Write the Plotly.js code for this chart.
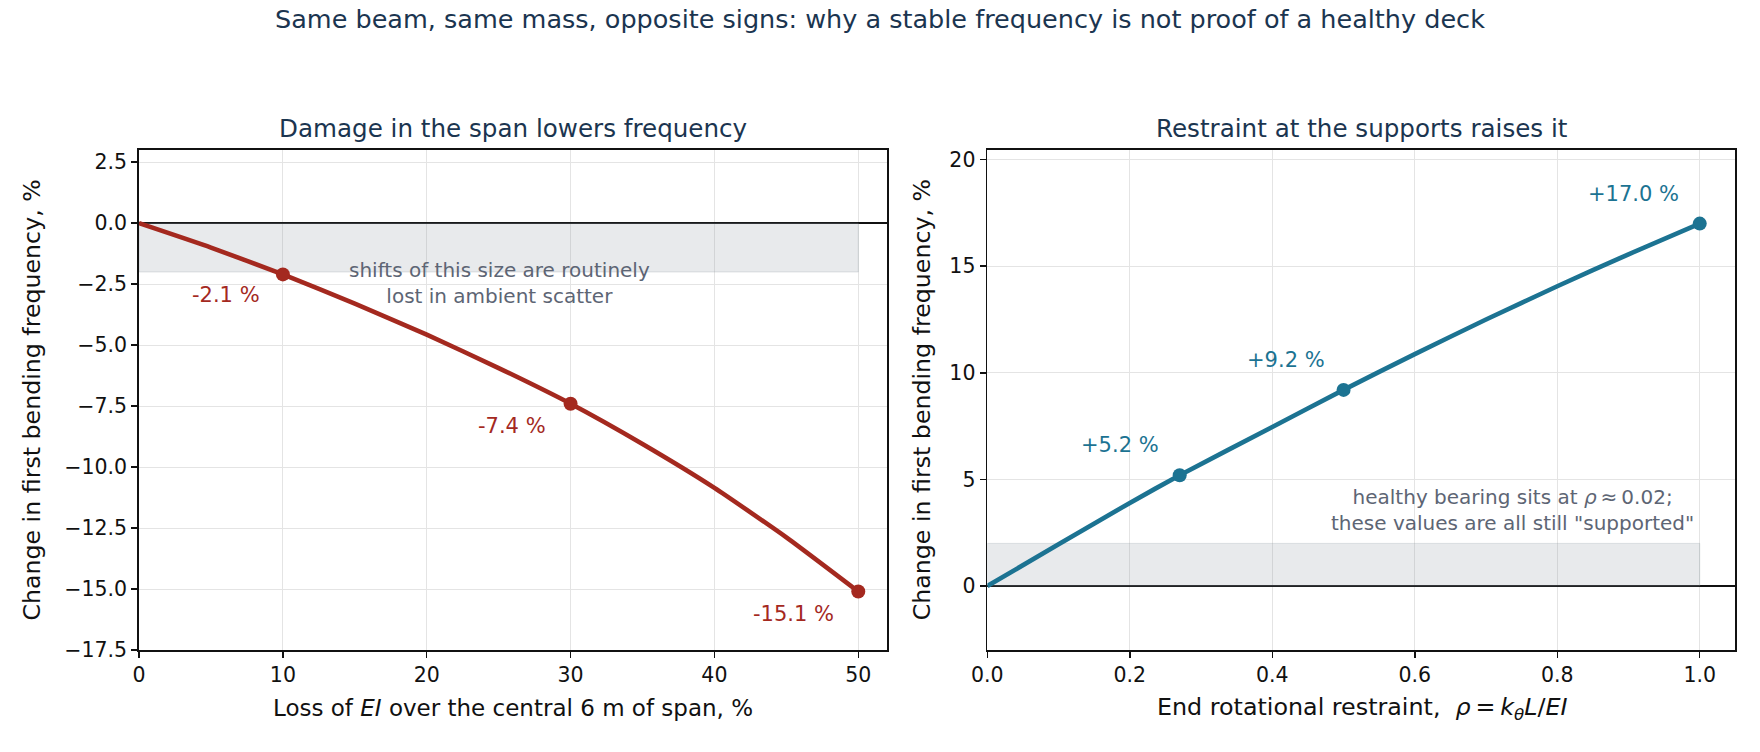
<!DOCTYPE html>
<html>
<head>
<meta charset="utf-8">
<script src="https://cdn.plot.ly/plotly-3.0.1.min.js"></script>
<style>
  html, body { margin: 0; padding: 0; background: #fff; }
  #chart { width: 1760px; height: 752px; }
</style>
</head>
<body>
<div id="chart"></div>
<script>
// left panel: loss of EI over central 6 m vs change in frequency
const lossX = [0, 5, 10, 15, 20, 25, 30, 35, 40, 45, 50];
const lossY = [0, -1.0, -2.1, -3.3, -4.57, -5.94, -7.4, -9.05, -10.85, -12.88, -15.1];
const lossPtsX = [10, 30, 50];
const lossPtsY = [-2.1, -7.4, -15.1];

// right panel: end rotational restraint rho vs change in frequency
const rhoX = [0, 0.1, 0.2, 0.27, 0.4, 0.5, 0.6, 0.7, 0.8, 0.9, 1.0];
const rhoY = [0, 1.96, 3.9, 5.2, 7.46, 9.2, 10.88, 12.5, 14.06, 15.56, 17.0];
const rhoPtsX = [0.27, 0.5, 1.0];
const rhoPtsY = [5.2, 9.2, 17.0];

// "within scatter" bands
const lossBand = [0, 50, -2, 0];
const rhoBand = [0, 1.0, 0, 2];

const RED = '#a4291f';
const TEAL = '#1c7392';
const NAVY = '#1b3550';
const NOTE = '#5d6574';
const FONT = 'DejaVu Sans, Verdana, sans-serif';

const traces = [
  { x: lossX, y: lossY, xaxis: 'x', yaxis: 'y', mode: 'lines',
    line: { color: RED, width: 4.6, shape: 'spline', smoothing: 0.5 }, hoverinfo: 'skip' },
  { x: lossPtsX, y: lossPtsY, xaxis: 'x', yaxis: 'y', mode: 'markers',
    marker: { color: RED, size: 14 } },
  { x: rhoX, y: rhoY, xaxis: 'x2', yaxis: 'y2', mode: 'lines',
    line: { color: TEAL, width: 4.6, shape: 'spline', smoothing: 0.5 }, hoverinfo: 'skip' },
  { x: rhoPtsX, y: rhoPtsY, xaxis: 'x2', yaxis: 'y2', mode: 'markers',
    marker: { color: TEAL, size: 14 } }
];

function ax(extra) {
  return Object.assign({
    showline: true, mirror: true, linecolor: '#111', linewidth: 1.8,
    ticks: 'outside', ticklen: 6, tickwidth: 1.5, tickcolor: '#111',
    showgrid: true, gridcolor: '#e4e4e4', gridwidth: 1,
    tickfont: { family: FONT, size: 20.5, color: '#111' },
    zeroline: false, fixedrange: true
  }, extra);
}

const annotations = [];

function paperText(text, x, y, size, color, angle) {
  annotations.push({ text: text, xref: 'paper', yref: 'paper', x: x, y: y,
    xanchor: 'center', yanchor: 'middle', showarrow: false, textangle: angle || 0,
    font: { family: FONT, size: size, color: color } });
}

paperText('Same beam, same mass, opposite signs: why a stable frequency is not proof of a healthy deck',
  0.5, 0.975, 25.5, NAVY);
paperText('Damage in the span lowers frequency', 0.2915, 0.829, 24.6, NAVY);
paperText('Restraint at the supports raises it', 0.774, 0.829, 24.6, NAVY);
paperText('Loss of <i>EI</i> over the central 6 m of span, %', 0.2915, 0.058, 23, '#111');
paperText('End rotational restraint,\u00a0\u00a0<i>ρ</i>\u2009=\u2009<i>k</i><sub><i>θ</i></sub><i>L</i>/<i>EI</i>',
  0.774, 0.058, 23.8, '#111');
paperText('Change in first bending frequency, %', 0.0185, 0.468, 23.7, '#111', -90);
paperText('Change in first bending frequency, %', 0.524, 0.468, 23.7, '#111', -90);

// value labels
const lossShift = [[-21, -7], [-23, -8], [-22, -9]];
lossPtsX.forEach(function (x, i) {
  annotations.push({ x: x, y: lossPtsY[i], xref: 'x', yref: 'y',
    text: lossPtsY[i].toFixed(1) + ' %', showarrow: false,
    xanchor: 'right', yanchor: 'top', xshift: lossShift[i][0], yshift: lossShift[i][1],
    font: { family: FONT, size: 21, color: RED } });
});
const rhoShift = [[-19, 16], [-17, 16], [-19, 16]];
rhoPtsX.forEach(function (x, i) {
  annotations.push({ x: x, y: rhoPtsY[i], xref: 'x2', yref: 'y2',
    text: '+' + rhoPtsY[i].toFixed(1) + ' %', showarrow: false,
    xanchor: 'right', yanchor: 'bottom', xshift: rhoShift[i][0], yshift: rhoShift[i][1],
    font: { family: FONT, size: 21, color: TEAL } });
});

annotations.push({ x: 25.05, y: -2.45, xref: 'x', yref: 'y', showarrow: false,
  text: 'shifts of this size are routinely<br>lost in ambient scatter', align: 'center',
  font: { family: FONT, size: 20, color: NOTE } });
annotations.push({ x: 0.737, y: 3.58, xref: 'x2', yref: 'y2', showarrow: false,
  text: 'healthy bearing sits at <i>ρ</i>\u2009≈\u20090.02;<br>these values are all still "supported"',
  align: 'center', font: { family: FONT, size: 20, color: NOTE } });

const shapes = [
  { type: 'rect', xref: 'x', yref: 'y', x0: lossBand[0], x1: lossBand[1], y0: lossBand[2], y1: lossBand[3],
    fillcolor: 'rgba(140,150,160,0.2)', line: { color: 'rgba(140,150,160,0.25)', width: 1 }, layer: 'between' },
  { type: 'rect', xref: 'x2', yref: 'y2', x0: rhoBand[0], x1: rhoBand[1], y0: rhoBand[2], y1: rhoBand[3],
    fillcolor: 'rgba(140,150,160,0.2)', line: { color: 'rgba(140,150,160,0.25)', width: 1 }, layer: 'between' }
];

const layout = {
  width: 1760, height: 752,
  margin: { l: 0, r: 0, t: 0, b: 0 },
  paper_bgcolor: '#fff', plot_bgcolor: '#fff',
  showlegend: false,
  xaxis: ax({ domain: [0.079, 0.504], range: [0, 52], dtick: 10, tick0: 0 }),
  yaxis: ax({ domain: [0.1356, 0.8005], range: [-17.5, 3.0], dtick: 2.5, tick0: 0, tickformat: '.1f',
    zeroline: true, zerolinecolor: '#111', zerolinewidth: 1.5 }),
  xaxis2: ax({ domain: [0.561, 0.986], range: [0, 1.05], dtick: 0.2, tick0: 0, tickformat: '.1f', anchor: 'y2' }),
  yaxis2: ax({ domain: [0.1356, 0.8005], range: [-3, 20.45], dtick: 5, tick0: 0, anchor: 'x2',
    zeroline: true, zerolinecolor: '#111', zerolinewidth: 1.5 }),
  annotations: annotations,
  shapes: shapes
};

Plotly.newPlot('chart', traces, layout, { displayModeBar: false, staticPlot: true });
</script>
</body>
</html>
